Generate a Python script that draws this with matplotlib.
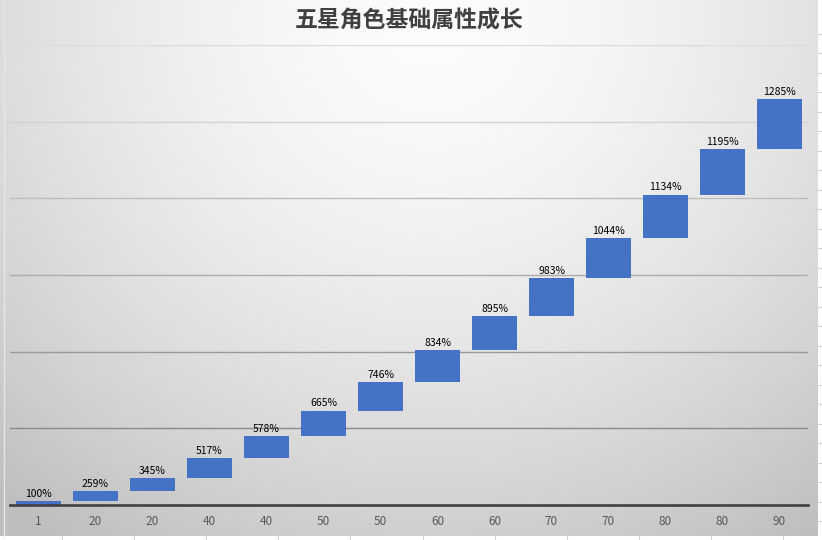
import numpy as np
import matplotlib
matplotlib.use("Agg")
import matplotlib.pyplot as plt
from matplotlib.lines import Line2D

plt.rcParams['font.family'] = ['Noto Sans CJK SC', 'DejaVu Sans']

# ---- data ----
title = "五星角色基础属性成长"
categories = ["1", "20", "20", "40", "40", "50", "50", "60", "60", "70", "70", "80", "80", "90"]
values = [100, 259, 345, 517, 578, 665, 746, 834, 895, 983, 1044, 1134, 1195, 1285]
grid_values = [2000, 4000, 6000, 8000, 10000, 12000]

W, H = 822, 540
fig = plt.figure(figsize=(W / 100, H / 100), dpi=100)

# ---- background gradient (chart area) ----
bg = fig.add_axes([0, 0, 1, 1])
yy, xx = np.mgrid[0:H, 0:W]
d = np.sqrt((xx - 430.0) ** 2 + ((yy - 20.0) * 1.05) ** 2)
g = 252 - 56 * (d / 620.0) ** 1.6
g = np.clip(g, 190, 252) / 255.0
img = np.dstack([g, g, g])
# spreadsheet outside the chart area
img[536:, :, :] = 1.0
img[:, 817:, :] = 1.0
bg.imshow(img, extent=(0, W, H, 0), aspect='auto', interpolation='bilinear')
bg.set_xlim(0, W)
bg.set_ylim(H, 0)
bg.axis('off')
# spreadsheet cell borders
for x in np.arange(62, 817, 72.1):
    bg.add_line(Line2D([x, x], [536, H], color='#d4d4d4', lw=0.8))
for y in np.arange(404, 20, -19.5):
    bg.add_line(Line2D([817, W], [y, y], color='#d4d4d4', lw=0.8))
for y in np.arange(404, 536, 19.5):
    bg.add_line(Line2D([817, W], [y, y], color='#d4d4d4', lw=0.8))
bg.add_line(Line2D([4, 4], [0, 536], color='#e6e6e6', lw=1.0))

# ---- main axes ----
left, right = 10 / W, 808 / W
bottom, top = (H - 505) / H, (H - 45) / H
ax = fig.add_axes([left, bottom, right - left, top - bottom])
ax.patch.set_alpha(0)

x = np.arange(len(categories))
bases = np.concatenate([[0], np.cumsum(values)[:-1]])
ax.bar(x, values, bottom=bases, width=0.79, color='#4472C4', zorder=3)
for xi, b, v in zip(x, bases, values):
    ax.annotate(f"{v}%", (xi, b + v), xytext=(0, 1.5), textcoords='offset points',
                ha='center', va='bottom', fontsize=7.5, color='#000000', zorder=4)

ax.set_xlim(-0.5, len(categories) - 0.5)
ax.set_ylim(0, 12000)

grid_colors = ['#8a8a8a', '#9a9a9a', '#acacac', '#bdbdbd', '#d2d2d2', '#dcdcdc']
for gv, gc in zip(grid_values, grid_colors):
    ax.axhline(gv, color=gc, lw=1.0, zorder=1)
ax.axhline(0, color='#404040', lw=1.9, zorder=5, clip_on=False)

for s in ax.spines.values():
    s.set_visible(False)
ax.set_yticks([])
ax.set_xticks(x)
ax.set_xticklabels(categories, fontsize=8.5, color='#595959')
ax.tick_params(axis='x', length=0, pad=7)

fig.text(409 / W, 1 - 21 / H, title, ha='center', va='center',
         fontsize=16.5, fontweight='bold', color='#404040')

fig.savefig("out.png", dpi=100)
